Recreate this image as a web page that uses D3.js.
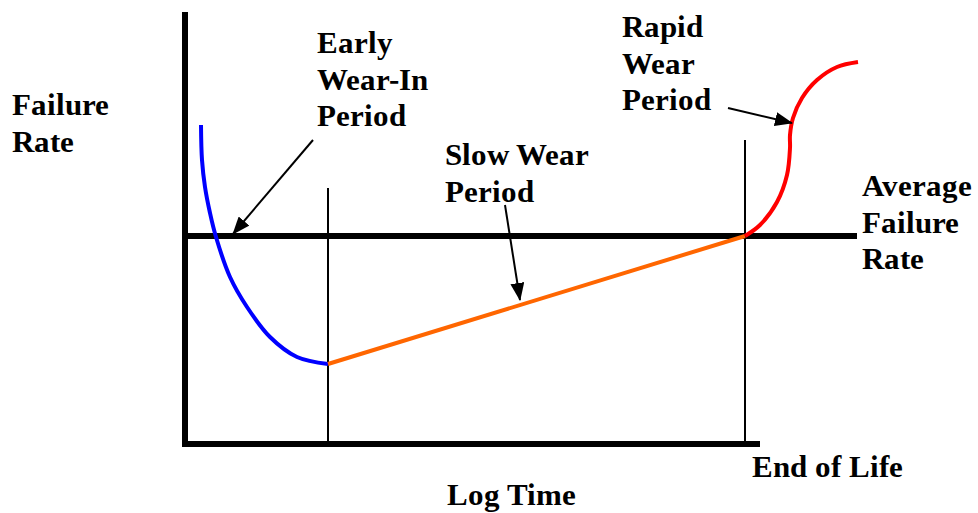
<!DOCTYPE html>
<html>
<head>
<meta charset="utf-8">
<script src="https://cdn.jsdelivr.net/npm/d3@7"></script>
<style>
@font-face { font-family: "ChartSerif"; src: local("Liberation Serif Bold"), local("LiberationSerif-Bold"); font-weight: bold; }
</style>
</head>
<body style="margin:0">
<script>
// Bathtub curve data (x = log time units, y = failure rate units)
var earlyX = [3.2, 3.4, 4, 5, 6.2, 9, 12.4, 17, 22.4, 28.6];
var earlyY = [79.75, 71, 64.25, 57.75, 51.75, 41.75, 34.25, 26.75, 21.75, 20];
var slowX = [28.6, 112];
var slowY = [20, 52];
var rapidX = [112, 115, 118.4, 120.4, 121, 121, 121.6, 123.4, 126.4, 130.4, 134.6];
var rapidY = [52, 54.75, 60.5, 67.25, 74, 77.25, 81.5, 86.5, 91, 94.25, 95.5];
var averageRate = 52;
var markerX = [28.6, 112];
var markerTop = [64, 76];
// arrows: [fromX, fromY, toX, toY]
var arrowList = [[25.6, 76, 9.6, 52.5], [64, 59.75, 67, 36], [108.6, 84, 121.4, 80.25]];

var labels = [
    { lines: ["Failure", "Rate"], x: 12, y: 115 },
    { lines: ["Early", "Wear-In", "Period"], x: 317, y: 53 },
    { lines: ["Slow Wear", "Period"], x: 445, y: 165 },
    { lines: ["Rapid", "Wear", "Period"], x: 622, y: 37 },
    { lines: ["Average", "Failure", "Rate"], x: 862, y: 196 },
    { lines: ["End of Life"], x: 752, y: 477 },
    { lines: ["Log Time"], x: 447, y: 505 }
];

var x = d3.scaleLinear().domain([0, 115]).range([185, 760]);
var y = d3.scaleLinear().domain([0, 108]).range([444, 12]);

var svg = d3.select("body").append("svg").attr("width", 978).attr("height", 513);

// labels first, one text element per line
labels.forEach(function(l) {
    l.lines.forEach(function(s, i) {
        svg.append("text")
            .attr("x", l.x).attr("y", l.y + i * 36.5)
            .attr("font-family", "ChartSerif, Liberation Serif")
            .attr("font-weight", "bold")
            .attr("font-size", 31)
            .text(s);
    });
});

svg.append("defs").append("marker")
    .attr("id", "arrow")
    .attr("markerUnits", "userSpaceOnUse")
    .attr("viewBox", "0 0 18 14")
    .attr("refX", 17).attr("refY", 7)
    .attr("markerWidth", 18).attr("markerHeight", 14)
    .attr("orient", "auto")
    .append("path")
    .attr("d", "M0,0 L18,7 L0,14 Z")
    .attr("fill", "#000");

function zip(xs, ys) {
    return xs.map(function(v, i) { return [v, ys[i]]; });
}

// thin vertical markers: start of slow wear, end of life
svg.selectAll(".vmark")
    .data(markerX)
    .enter().append("line")
    .attr("x1", function(d) { return x(d); })
    .attr("x2", function(d) { return x(d); })
    .attr("y1", function(d, i) { return y(markerTop[i]); })
    .attr("y2", y(0))
    .attr("stroke", "#000")
    .attr("stroke-width", 2);

// average failure rate line
svg.append("line")
    .attr("x1", x(0)).attr("x2", x(134.4))
    .attr("y1", y(averageRate)).attr("y2", y(averageRate))
    .attr("stroke", "#000").attr("stroke-width", 6);

// axes
svg.append("line")
    .attr("x1", x(0)).attr("x2", x(0))
    .attr("y1", y(108)).attr("y2", y(0) + 3)
    .attr("stroke", "#000").attr("stroke-width", 6);
svg.append("line")
    .attr("x1", x(0) - 3).attr("x2", x(115))
    .attr("y1", y(0)).attr("y2", y(0))
    .attr("stroke", "#000").attr("stroke-width", 6);

var line = d3.line()
    .x(function(d) { return x(d[0]); })
    .y(function(d) { return y(d[1]); });

svg.append("path")
    .attr("d", line.curve(d3.curveCatmullRom.alpha(0.5))(zip(earlyX, earlyY)))
    .attr("fill", "none").attr("stroke", "#0000ff").attr("stroke-width", 4);

svg.append("path")
    .attr("d", line.curve(d3.curveLinear)(zip(slowX, slowY)))
    .attr("fill", "none").attr("stroke", "#ff6600").attr("stroke-width", 4);

svg.append("path")
    .attr("d", line.curve(d3.curveCatmullRom.alpha(0.5))(zip(rapidX, rapidY)))
    .attr("fill", "none").attr("stroke", "#ff0000").attr("stroke-width", 4);

// arrows
svg.selectAll(".arrow")
    .data(arrowList)
    .enter().append("line")
    .attr("x1", function(d) { return x(d[0]); })
    .attr("y1", function(d) { return y(d[1]); })
    .attr("x2", function(d) { return x(d[2]); })
    .attr("y2", function(d) { return y(d[3]); })
    .attr("stroke", "#000").attr("stroke-width", 2)
    .attr("marker-end", "url(#arrow)");
</script>
</body>
</html>
